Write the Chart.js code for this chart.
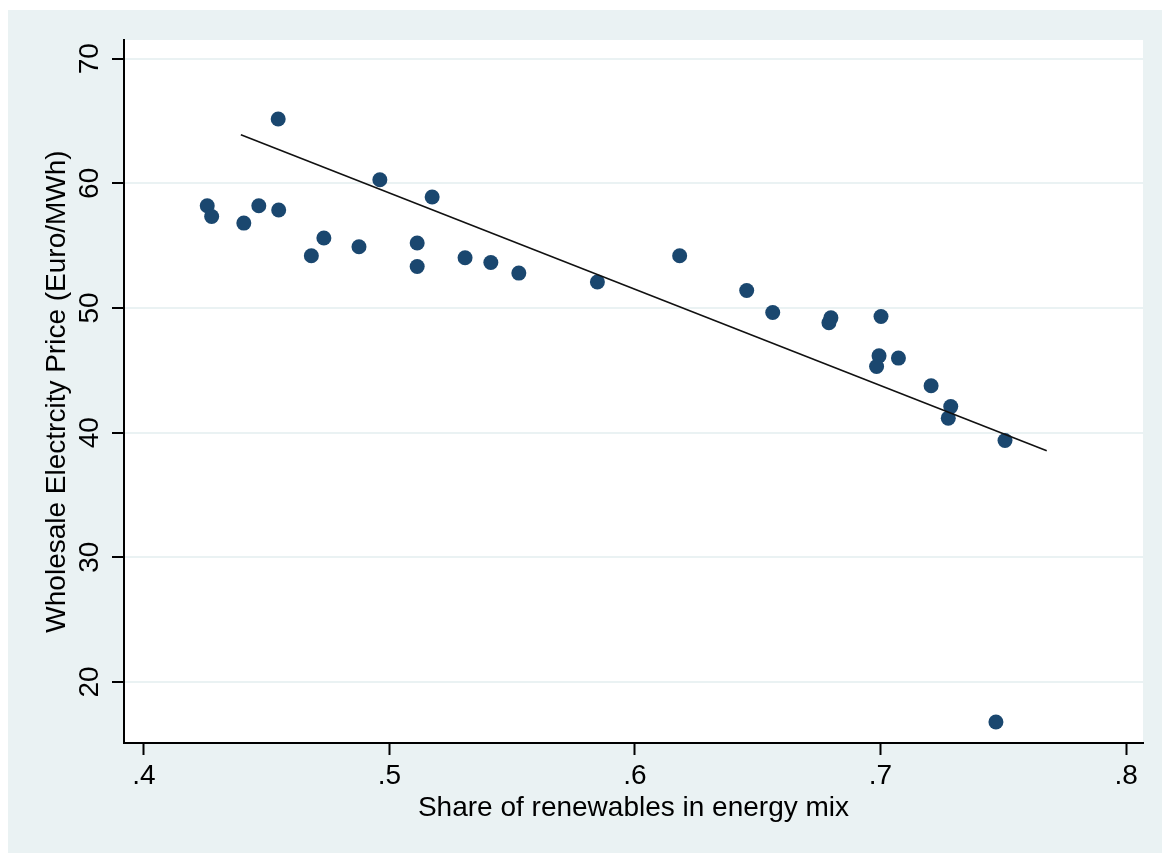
<!DOCTYPE html>
<html>
<head>
<meta charset="utf-8">
<script src="https://cdn.jsdelivr.net/npm/chart.js@4/dist/chart.umd.min.js"></script>
<style>
  html, body { margin: 0; padding: 0; background: #fff; }
  #wrap { width: 1162px; height: 853px; position: relative; }
</style>
</head>
<body>
<div id="wrap"><canvas id="myChart" width="1162" height="853"></canvas></div>
<script>
// share of renewables (x) and wholesale price (y)
const shareRenewables = [
  0.4258, 0.4276, 0.4407, 0.4468, 0.4547, 0.4549, 0.4682, 0.4733, 0.4876, 0.4961,
  0.5113, 0.5113, 0.5174, 0.5308, 0.5413, 0.5527, 0.5847, 0.6182, 0.6455, 0.6561,
  0.6790, 0.6798, 0.7002, 0.6994, 0.6984, 0.7073, 0.7206, 0.7286, 0.7276, 0.7507,
  0.7470
];
const wholesalePrice = [
  58.20, 57.34, 56.81, 58.20, 65.16, 57.86, 54.19, 55.61, 54.91, 60.29,
  55.21, 53.33, 58.90, 54.03, 53.65, 52.80, 52.08, 54.19, 51.40, 49.64,
  48.81, 49.21, 49.32, 46.16, 45.31, 45.98, 43.76, 42.09, 41.16, 39.37,
  16.79
];

// fitted line end points
const fitX = [0.4395, 0.7677];
const fitY = [63.90, 38.54];

const xTicks = [0.4, 0.5, 0.6, 0.7, 0.8];
const xTickLabels = ['.4', '.5', '.6', '.7', '.8'];
const yTicks = [20, 30, 40, 50, 60, 70];
const yTickLabels = ['20', '30', '40', '50', '60', '70'];

const FONT = '"Liberation Sans", Arial, Helvetica, sans-serif';
const BG = '#eaf2f3';

// outer grey frame and white plot region
const backgroundPlugin = {
  id: 'stataBackground',
  beforeDraw(chart) {
    const { ctx, chartArea } = chart;
    ctx.save();
    ctx.fillStyle = '#ffffff';
    ctx.fillRect(0, 0, chart.width, chart.height);
    ctx.fillStyle = BG;
    ctx.fillRect(8, 10, chart.width - 8, chart.height - 10);
    ctx.fillStyle = '#ffffff';
    ctx.fillRect(chartArea.left, chartArea.top, chartArea.right - chartArea.left, chartArea.bottom - chartArea.top);
    ctx.restore();
  }
};

// y tick labels are drawn turned, like in the original
const yLabelPlugin = {
  id: 'yLabels',
  afterDraw(chart) {
    const { ctx } = chart;
    const yScale = chart.scales.y;
    ctx.save();
    ctx.fillStyle = '#000';
    ctx.font = '28px ' + FONT;
    ctx.textAlign = 'center';
    ctx.textBaseline = 'middle';
    yTicks.forEach((v, i) => {
      const py = yScale.getPixelForValue(v);
      ctx.save();
      ctx.translate(90, py);
      ctx.rotate(-Math.PI / 2);
      ctx.fillText(yTickLabels[i], 0, 0);
      ctx.restore();
    });
    ctx.restore();
  }
};

new Chart(document.getElementById('myChart'), {
  data: {
    datasets: [
      {
        type: 'line',
        label: 'Fitted values',
        data: fitX.map((x, i) => ({ x: x, y: fitY[i] })),
        borderColor: '#111',
        borderWidth: 1.6,
        pointRadius: 0,
        fill: false,
        order: 0,
      },
      {
        type: 'scatter',
        label: 'Wholesale price',
        data: shareRenewables.map((x, i) => ({ x: x, y: wholesalePrice[i] })),
        backgroundColor: '#1a476f',
        borderColor: '#1a476f',
        borderWidth: 0,
        pointRadius: 7.5,
        order: 1,
      },
    ],
  },
  plugins: [backgroundPlugin, yLabelPlugin],
  options: {
    responsive: false,
    animation: false,
    layout: { padding: { top: 40, right: 19, left: 0, bottom: 0 } },
    plugins: {
      legend: { display: false },
      tooltip: { enabled: false },
    },
    scales: {
      x: {
        type: 'linear',
        position: 'bottom',
        min: 0.3919,
        max: 0.8069,
        afterBuildTicks: (scale) => { scale.ticks = xTicks.map((v) => ({ value: v })); },
        afterFit: (scale) => { scale.height = 110; },
        ticks: {
          color: '#000',
          font: { family: FONT, size: 28 },
          padding: 4,
          maxRotation: 0,
          autoSkip: false,
          callback: (value) => xTickLabels[xTicks.indexOf(value)],
        },
        grid: {
          drawOnChartArea: false,
          tickLength: 12,
          tickColor: '#000',
          tickWidth: 2,
        },
        border: { color: '#000', width: 2 },
        title: {
          display: true,
          text: 'Share of renewables in energy mix',
          color: '#000',
          font: { family: FONT, size: 28 },
          padding: { top: 0, bottom: 28 },
        },
      },
      y: {
        type: 'linear',
        position: 'left',
        min: 15.1,
        max: 71.5,
        afterBuildTicks: (scale) => { scale.ticks = yTicks.map((v) => ({ value: v })); },
        afterFit: (scale) => { scale.width = 124; },
        ticks: { display: false },
        grid: {
          color: BG,
          lineWidth: 2,
          tickLength: 12,
          tickColor: '#000',
          tickWidth: 2,
        },
        border: { color: '#000', width: 2 },
        title: {
          display: true,
          text: 'Wholesale Electrcity Price (Euro/MWh)',
          color: '#000',
          font: { family: FONT, size: 28 },
          padding: { top: 40, bottom: 0 },
        },
      },
    },
  },
});
</script>
</body>
</html>
